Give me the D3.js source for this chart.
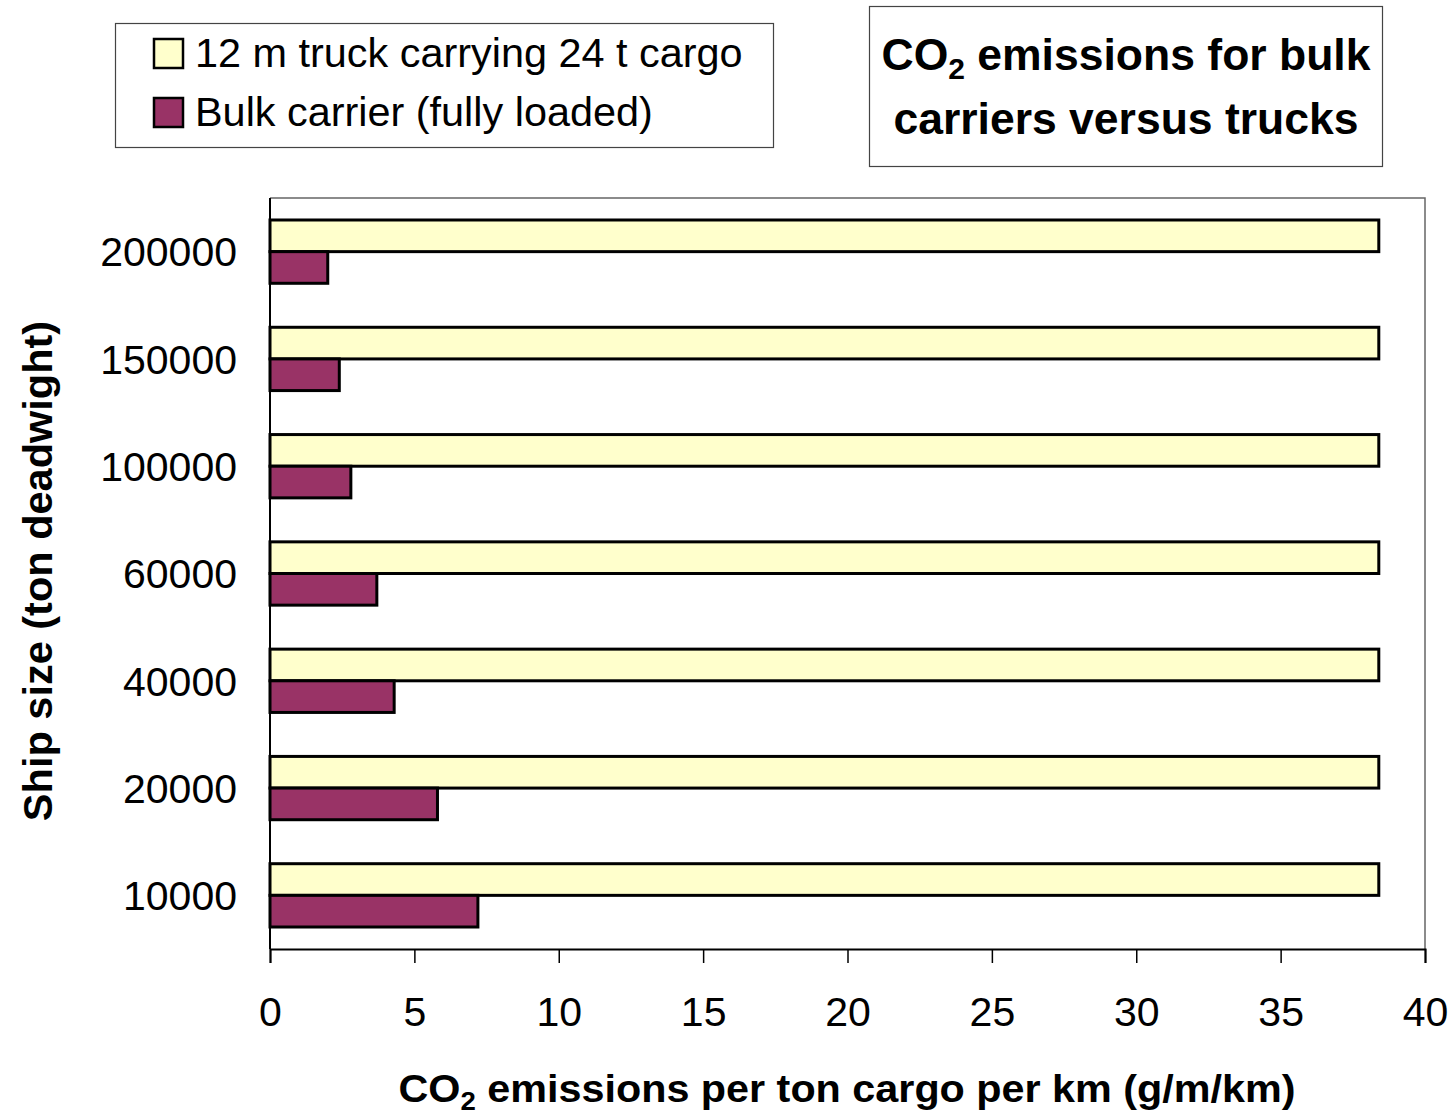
<!DOCTYPE html>
<html>
<head>
<meta charset="utf-8">
<script src="https://cdn.jsdelivr.net/npm/d3@7"></script>
<style>
  html, body { margin: 0; padding: 0; background: #fff; }
  svg text { font-family: "Liberation Sans", Arial, sans-serif; fill: #000; }
</style>
</head>
<body>
<svg id="chart" width="1454" height="1116"></svg>
<script>
// Ship sizes (ton deadweight), top to bottom
const shipSizes = ["200000", "150000", "100000", "60000", "40000", "20000", "10000"];
// CO2 g per ton cargo per km
const truckValues = [38.4, 38.4, 38.4, 38.4, 38.4, 38.4, 38.4];
const bulkValues = [2.0, 2.4, 2.8, 3.7, 4.3, 5.8, 7.2];
const seriesNames = ["12 m truck carrying 24 t cargo", "Bulk carrier (fully loaded)"];
const seriesColors = ["#FFFFCC", "#993366"];
const xTicks = [0, 5, 10, 15, 20, 25, 30, 35, 40];

const svg = d3.select("#chart");
const plot = { left: 270, top: 198, right: 1425, bottom: 949 };

const x = d3.scaleLinear().domain([0, 40]).range([plot.left, plot.right]);
const y = d3.scaleBand().domain(shipSizes).range([plot.top, plot.bottom]).paddingInner(0.41).paddingOuter(0.205);
const sub = d3.scaleBand().domain([0, 1]).range([0, y.bandwidth()]);

// plot frame (top and right edges)
svg.append("path")
  .attr("d", `M${plot.left},${plot.top}H${plot.right}V${plot.bottom}`)
  .attr("fill", "none").attr("stroke", "#666").attr("stroke-width", 1.5);

// bars
const series = [truckValues, bulkValues];
series.forEach((vals, si) => {
  svg.append("g").selectAll("rect")
    .data(shipSizes.map((s, i) => ({ s, v: vals[i] })))
    .join("rect")
    .attr("x", x(0))
    .attr("y", d => y(d.s) + sub(si))
    .attr("width", d => x(d.v) - x(0))
    .attr("height", sub.bandwidth())
    .attr("fill", seriesColors[si])
    .attr("stroke", "#000")
    .attr("stroke-width", 3);
});

// x axis
const xAxis = svg.append("g")
  .attr("transform", `translate(0,${plot.bottom})`)
  .call(d3.axisBottom(x).tickValues(xTicks).tickSize(14).tickPadding(34).tickFormat(d3.format("d")));
xAxis.select(".domain").attr("stroke", "#000").attr("stroke-width", 2);
xAxis.selectAll(".tick line").attr("stroke", "#000").attr("stroke-width", 1.5);
xAxis.selectAll(".tick text").attr("font-size", 41).attr("font-family", "Liberation Sans, Arial, sans-serif");

// y axis
const yAxis = svg.append("g")
  .attr("transform", `translate(${plot.left},0)`)
  .call(d3.axisLeft(y).tickSize(0).tickPadding(33));
yAxis.select(".domain").attr("stroke", "#000").attr("stroke-width", 2)
  .attr("d", `M0,${plot.top}V${plot.bottom}`);
yAxis.selectAll(".tick text").attr("font-size", 41).attr("font-family", "Liberation Sans, Arial, sans-serif")
  .attr("dy", "0.36em");

// axis titles
const xt = svg.append("text")
  .attr("x", 847).attr("y", 1102)
  .attr("text-anchor", "middle")
  .attr("font-size", 39).attr("font-weight", "bold")
  .attr("textLength", 897).attr("lengthAdjust", "spacingAndGlyphs");
xt.append("tspan").text("CO");
xt.append("tspan").attr("font-size", 26).attr("dy", 8).text("2");
xt.append("tspan").attr("dy", -8).text(" emissions per ton cargo per km (g/m/km)");

svg.append("text")
  .attr("transform", "translate(52,571) rotate(-90)")
  .attr("text-anchor", "middle")
  .attr("font-size", 41.5).attr("font-weight", "bold")
  .text("Ship size (ton deadwight)");

// legend
const legend = svg.append("g");
legend.append("rect").attr("x", 115.5).attr("y", 23.5).attr("width", 658).attr("height", 124)
  .attr("fill", "#fff").attr("stroke", "#444").attr("stroke-width", 1.2);
seriesNames.forEach((name, i) => {
  const cy = 53 + i * 59;
  legend.append("rect").attr("x", 154).attr("y", cy - 14).attr("width", 29).attr("height", 29)
    .attr("fill", seriesColors[i]).attr("stroke", "#000").attr("stroke-width", 2.5);
  legend.append("text").attr("x", 195).attr("y", cy + 14).attr("font-size", 41.4).text(name);
});

// title box
const tg = svg.append("g");
tg.append("rect").attr("x", 869.5).attr("y", 6.5).attr("width", 513).attr("height", 160)
  .attr("fill", "#fff").attr("stroke", "#444").attr("stroke-width", 1.2);
const t1 = tg.append("text").attr("x", 1126).attr("y", 70).attr("text-anchor", "middle")
  .attr("font-size", 44.5).attr("font-weight", "bold");
t1.append("tspan").text("CO");
t1.append("tspan").attr("font-size", 30).attr("dy", 9).text("2");
t1.append("tspan").attr("dy", -9).text(" emissions for bulk");
tg.append("text").attr("x", 1126).attr("y", 134).attr("text-anchor", "middle")
  .attr("font-size", 44.5).attr("font-weight", "bold").text("carriers versus trucks");
</script>
</body>
</html>
